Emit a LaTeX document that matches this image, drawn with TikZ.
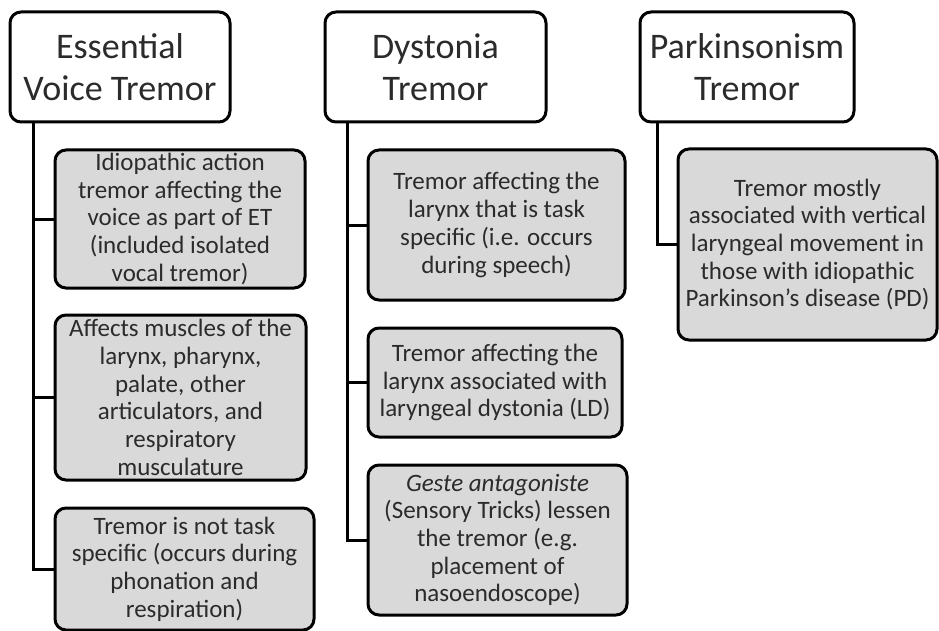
\documentclass[tikz,border=0pt]{standalone}
\usepackage{fontspec}
\setmainfont{Carlito}
\definecolor{boxgray}{HTML}{D9D9D9}
\definecolor{txt}{HTML}{2B2B2B}
\begin{document}
\begin{tikzpicture}[x=1pt,y=-1pt,
  hdr/.style={draw=black, line width=3pt, rounded corners=11pt, fill=white,
    inner sep=0pt, align=center, text=txt, font=\fontsize{36}{42}\selectfont},
  item/.style={draw=black, line width=3pt, rounded corners=11pt, fill=boxgray,
    inner sep=0pt, align=center, text=txt, font=\fontsize{25}{27.7}\selectfont},
  link/.style={draw=black, line width=3pt}]
\useasboundingbox (0,0) rectangle (939,631);
% headers
\node[hdr, minimum width=220pt, minimum height=110pt] (h1) at (120,67) {Essential\\Voice Tremor};
\node[hdr, minimum width=221pt, minimum height=110pt] (h2) at (435.5,67) {Dystonia\\Tremor};
\node[hdr, minimum width=214pt, minimum height=110pt] (h3) at (747,67) {Parkinsonism\\Tremor};
% ET items
\node[item, minimum width=250pt, minimum height=138pt] (e1) at (180,219) {Idiopathic action\\tremor affecting the\\voice as part of ET\\(included isolated\\vocal tremor)};
\node[item, minimum width=251pt, minimum height=165pt] (e2) at (180.5,397.5) {Affects muscles of the\\larynx, pharynx,\\palate, other\\articulators, and\\respiratory\\musculature};
\node[item, minimum width=259pt, minimum height=122pt] (e3) at (184.5,569) {Tremor is not task\\specific (occurs during\\phonation and\\respiration)};
% Dystonia items
\node[item, minimum width=257pt, minimum height=150pt] (d1) at (496.5,225) {Tremor affecting the\\larynx that is task\\specific (i.e. occurs\\during speech)};
\node[item, minimum width=254pt, minimum height=109pt] (d2) at (495,382.5) {Tremor affecting the\\larynx associated with\\laryngeal dystonia (LD)};
\node[item, minimum width=259pt, minimum height=150pt] (d3) at (497.5,540) {\textit{Geste antagoniste}\\(Sensory Tricks) lessen\\the tremor (e.g.\\placement of\\nasoendoscope)};
% Parkinsonism item
\node[item, minimum width=259pt, minimum height=191pt] (p1) at (807.5,244.5) {Tremor mostly\\associated with vertical\\laryngeal movement in\\those with idiopathic\\Parkinson’s disease (PD)};
% trunk coordinates
\coordinate (t1) at (33,122);
\coordinate (t2) at (347,122);
\coordinate (t3) at (657,122);
% connectors
\draw[link] (t1) |- (e3.west);
\draw[link] (t1 |- e1.west) -- (e1.west);
\draw[link] (t1 |- e2.west) -- (e2.west);
\draw[link] (t2) |- (d3.west);
\draw[link] (t2 |- d1.west) -- (d1.west);
\draw[link] (t2 |- d2.west) -- (d2.west);
\draw[link] (t3) |- (p1.west);
\end{tikzpicture}
\end{document}
